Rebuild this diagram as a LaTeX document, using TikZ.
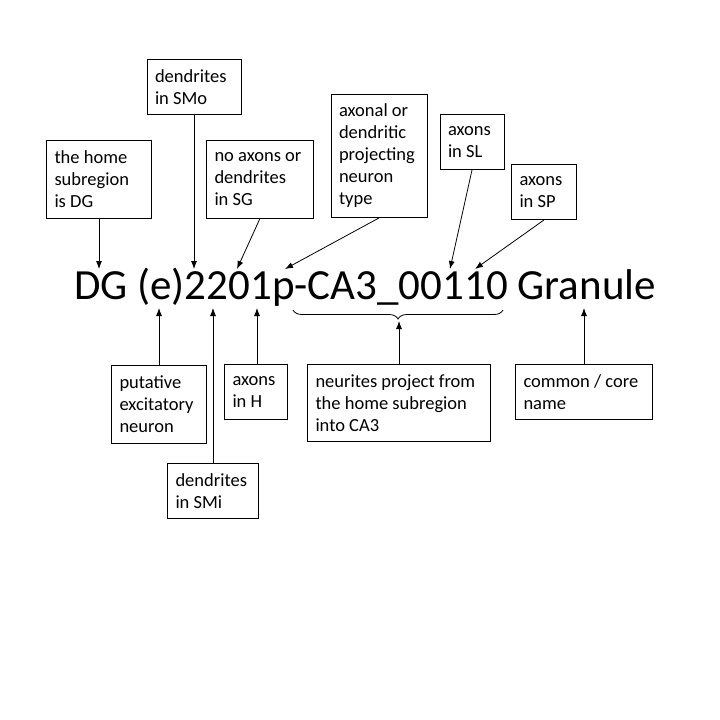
\documentclass[tikz,border=0pt]{standalone}
\usepackage{fontspec}
\setmainfont{Carlito}
\usetikzlibrary{arrows.meta,decorations.pathreplacing}

\tikzset{
    note/.style 2 args={draw, line width=0.9pt, align=flush left, inner xsep=8pt, inner ysep=0pt,
        text width=#1, minimum height=#2, font=\fontsize{18.5}{22}\selectfont},
    pointer/.style={line width=0.8pt, -{Latex[length=8pt,width=6pt]}}
}

\begin{document}
\begin{tikzpicture}[x=1pt, y=-1pt]
    \useasboundingbox (0,0) rectangle (720,720);

    % Name
    \node[anchor=base west, inner sep=0pt, font=\fontsize{43}{50}\selectfont] (name) at (74,299)
        {DG (e)2201p-CA3\_00110 Granule};

    % Notes above
    \node[note={89}{78}]  (home)   at (99,179)  {the home\\subregion\\is DG};
    \node[note={78}{55}]  (smo)    at (194,87)  {dendrites\\in SMo};
    \node[note={91}{78}]  (sg)     at (260,179) {no axons or\\dendrites\\in SG};
    \node[note={80}{123}] (proj)   at (379,156) {axonal or\\dendritic\\projecting\\neuron\\type};
    \node[note={48}{55}]  (sl)     at (472,142) {axons\\in SL};
    \node[note={49}{55}]  (sp)     at (544,192) {axons\\in SP};

    % Notes below
    \node[note={79}{78}]  (putex)  at (159,404) {putative\\excitatory\\neuron};
    \node[note={75}{55}]  (smi)    at (213,491) {dendrites\\in SMi};
    \node[note={47}{55}]  (hil)    at (256,392) {axons\\in H};
    \node[note={167}{77}] (neur)   at (399,403) {neurites project from\\the home subregion\\into CA3};
    \node[note={121}{55}] (core)   at (584,392) {common / core\\name};

    % Tips
    \coordinate (t-home) at (99,269);
    \coordinate (t-smo)  at (194,269);
    \coordinate (t-sg)   at (237,269);
    \coordinate (t-proj) at (285,269);
    \coordinate (t-sl)   at (450,269);
    \coordinate (t-sp)   at (475,269);
    \coordinate (t-e)    at (159,308);
    \coordinate (t-smi)  at (213,308);
    \coordinate (t-hil)  at (257,308);
    \coordinate (t-neur) at (399,321);
    \coordinate (t-core) at (584,308);

    \draw[pointer] (home.south) -- (t-home);
    \draw[pointer] (smo.south) -- (t-smo);
    \draw[pointer] (sg.south) -- (t-sg);
    \draw[pointer] (proj.south) -- (t-proj);
    \draw[pointer] (sl.south) -- (t-sl);
    \draw[pointer] (sp.south) -- (t-sp);

    \draw[pointer] (putex.north) -- (t-e);
    \draw[pointer] (smi.north -| t-smi) -- (t-smi);
    \draw[pointer] (hil.north -| t-hil) -- (t-hil);
    \draw[pointer] (neur.north) -- (t-neur);
    \draw[pointer] (core.north) -- (t-core);

    % Brace
    \draw[line width=0.8pt, decorate, decoration={brace, mirror, amplitude=9pt}]
        (293,310) -- (503,310);
\end{tikzpicture}
\end{document}
